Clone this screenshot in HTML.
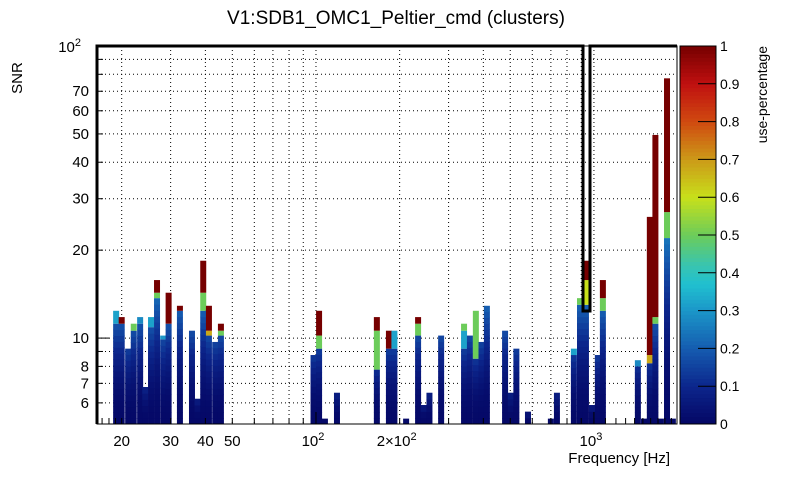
<!DOCTYPE html>
<html><head><meta charset="utf-8"><style>
body{margin:0;background:#fff;}
svg text{font-family:"Liberation Sans",sans-serif;fill:#000;}
</style></head><body>
<svg id="chart" width="805" height="472" viewBox="0 0 805 472" xmlns="http://www.w3.org/2000/svg">
<text x="396" y="24" font-size="19" text-anchor="middle">V1:SDB1_OMC1_Peltier_cmd (clusters)</text>
<text transform="translate(22,78) rotate(-90)" font-size="15" text-anchor="middle">SNR</text>
<text x="670" y="463" font-size="15" text-anchor="end">Frequency [Hz]</text>
<text transform="translate(767,46) rotate(-90)" font-size="14" text-anchor="end">use-percentage</text>
<g id="grid"></g><g id="bars"></g><g id="axes"></g><g id="cbar"></g>
</svg>
<script>
const freqs=[19.1,20.0,21.1,22.1,23.3,24.3,25.5,26.8,28.2,29.5,32.4,35.8,37.5,39.3,41.2,43.4,45.5,98,102.6,107.7,119,165.6,183,191.5,211,233,244,256,282,341,358,376,394,412,479,502,526,579,700,736,847,891,936,984,1033,1077,1439,1514,1589,1664,1742,1832,1923];
const snrTop=[12.4,11.8,9.2,11.2,11.8,6.8,11.8,15.8,10.2,14.3,12.9,10.6,6.2,18.4,12.9,9.7,11.2,8.75,12.4,5.3,6.5,11.8,10.6,10.6,5.3,11.8,5.9,6.5,10.2,11.2,10.2,12.4,9.7,12.9,10.6,6.5,9.2,5.6,5.3,6.5,9.2,13.7,18.4,5.9,8.75,15.8,8.4,5.3,26,49.6,5.3,77.5,5.3];
const hotFrom=[11.2,11.2,9.2,10.6,11.2,6.8,10.9,14.3,9.9,11.2,12.4,10.6,6.2,14.3,10.6,9.7,10.6,8.75,10.2,5.3,6.5,10.6,9.2,9.2,5.3,11.2,5.9,6.5,10.2,10.6,10.2,8.5,9.7,12.9,10.6,6.5,9.2,5.6,5.3,6.5,8.75,13,15.8,5.9,8.75,13.7,8.0,5.3,8.75,11.8,5.3,27,5.3];
const hotUse=[0.32,1,0,0.5,0.28,0,0.32,1,0.3,1,1,0,0,1,1,0,1,0,1,0,0,1,1,0.32,0,1,0,0,0,0.5,0,0.5,0,0,0,0,0,0,0,0,0.32,0.5,1,0,0,1,0.28,0,1,1,0,1,0];
const midFrom=[0,0,0,0,0,0,0,13.7,0,0,0,0,0,12.4,10.2,0,10.2,0,9.2,0,0,7.8,0,0,0,10.2,0,0,0,9.2,0,0,0,0,0,0,0,0,0,0,0,0,13,0,0,12.4,0,0,8.2,11.2,0,22,0];
const midUse=[0,0,0,0,0,0,0,0.5,0,0,0,0,0,0.5,0.68,0,0.5,0,0.5,0,0,0.5,0,0,0,0.5,0,0,0,0.32,0,0,0,0,0,0,0,0,0,0,0,0,0.6,0,0,0.5,0,0,0.68,0.5,0,0.5,0];
const xTicks=[20,30,40,50,60,70,80,90,100,200,300,400,500,600,700,800,900,1000];
const xLabels=[[20,"20"],[30,"30"],[40,"40"],[50,"50"]];
const yTicks=[6,7,8,9,10,20,30,40,50,60,70,80,90,100];
const yLabels=[6,7,8,10,20,30,40,50,60,70];
const cTicks=[0,0.1,0.2,0.3,0.4,0.5,0.6,0.7,0.8,0.9,1];

const X0=97,X1=677,Y0=424,Y1=46;
const LX0=Math.log10(16.3),LX1=Math.log10(1990),LY0=Math.log10(5.08),LY1=2;
const sx=f=>X0+(Math.log10(f)-LX0)/(LX1-LX0)*(X1-X0);
const sy=v=>Y0-(Math.log10(v)-LY0)/(LY1-LY0)*(Y0-Y1);
const NS="http://www.w3.org/2000/svg";
function mk(tag,attrs,parent){const e=document.createElementNS(NS,tag);for(const k in attrs)e.setAttribute(k,attrs[k]);parent.appendChild(e);return e;}
const stops=[[0,[4,6,100]],[0.1,[12,38,140]],[0.2,[21,92,176]],[0.3,[27,150,200]],[0.37,[32,192,208]],[0.42,[56,196,176]],[0.5,[108,204,90]],[0.6,[200,224,26]],[0.7,[204,154,24]],[0.8,[208,74,16]],[0.9,[192,16,16]],[1,[118,0,0]]];
function cmap(u){for(let i=1;i<stops.length;i++){if(u<=stops[i][0]){const a=stops[i-1],b=stops[i],t=(u-a[0])/(b[0]-a[0]);return "rgb("+a[1].map((c,j)=>Math.round(c+(b[1][j]-c)*t)).join(",")+")";}}return "rgb(118,0,0)";}

const grid=document.getElementById('grid'),bars=document.getElementById('bars'),axes=document.getElementById('axes'),cbar=document.getElementById('cbar');
xTicks.forEach(f=>{const l=mk('line',{x1:sx(f),x2:sx(f),y1:Y1,y2:Y0,stroke:'#000','stroke-width':1,'stroke-dasharray':'1,3'},grid);

});
yTicks.forEach(v=>{const l=mk('line',{x1:X0,x2:X1,y1:sy(v),y2:sy(v),stroke:'#000','stroke-width':1,'stroke-dasharray':'1,3'},grid);

});

freqs.forEach((f,i)=>{
  const g=mk('g',{},bars);
  
  
  const xc=sx(f),x=xc-3,w=6;
  const top=sy(snrTop[i]),hot=sy(hotFrom[i]);
  const mid=midFrom[i]>0?sy(midFrom[i]):hot;
  const baseTop=Math.max(mid,top);
  const n=Math.max(1,Math.round((Y0-baseTop)/6));
  const h=(Y0-baseTop)/n;
  const maxU=Math.min(0.24,0.02+0.2*(Y0-baseTop)/130);
  for(let k=0;k<n;k++){const t=k/Math.max(1,n-1);const u=0.01+(maxU-0.01)*t*t;
    const r=mk('rect',{x:x,y:Y0-(k+1)*h,width:w,height:h+0.5,fill:cmap(u)},g);
    
    }
  if(midFrom[i]>0&&mid>hot){const r=mk('rect',{x:x,y:hot,width:w,height:mid-hot,fill:cmap(midUse[i])},g);
    
    }
  if(hot>top){const r=mk('rect',{x:x,y:top,width:w,height:hot-top,fill:cmap(hotUse[i])},g);
    
    }
});

const fr=mk('rect',{x:X0,y:Y1,width:X1-X0,height:Y0-Y1,fill:'none',stroke:'#000','stroke-width':1},axes);


const ol=mk('polyline',{points:`${X0},${Y0} ${X0},${Y1} 583,${Y1} 583,311 590,311 590,${Y1} ${X1},${Y1}`,fill:'none',stroke:'#000','stroke-width':3},axes);


xTicks.concat([1100,1200,1300,1400,1500,1600,1700,1800,1900,17,18,19]).forEach(f=>{const major=(f===100||f===1000);
  const t=mk('line',{x1:sx(f),x2:sx(f),y1:Y0,y2:Y0-(major?12:6),stroke:'#000'},axes);
  
  });
xLabels.forEach(p=>{const t=mk('text',{x:sx(p[0]),y:446,'font-size':15,'text-anchor':'middle'},axes);t.textContent=p[1];
  
  });
[[100,"10","2"],[200,"2×10","2"],[1000,"10","3"]].forEach(p=>{const t=mk('text',{x:sx(p[0])-3,y:446,'font-size':15,'text-anchor':'middle'},axes);
  t.textContent=p[1];const s=mk('tspan',{dy:-6,'font-size':11},t);s.textContent=p[2];
  
  });
yTicks.forEach(v=>{const major=(v===10||v===100);
  const t=mk('line',{x1:X0,x2:X0+(major?12:6),y1:sy(v),y2:sy(v),stroke:'#000'},axes);
  
  });
yLabels.forEach(v=>{const t=mk('text',{x:89,y:sy(v)+5,'font-size':15,'text-anchor':'end'},axes);t.textContent=String(v);
  
  });
{const t=mk('text',{x:81,y:sy(100)+6,'font-size':15,'text-anchor':'end'},axes);t.textContent="10";const s=mk('tspan',{dy:-6,'font-size':11},t);s.textContent="2";
  
  }
const CX0=680,CX1=716;
for(let k=0;k<100;k++){const u=(k+0.5)/100;const r=mk('rect',{x:CX0,y:Y0-(k+1)*(Y0-Y1)/100,width:CX1-CX0,height:(Y0-Y1)/100+0.5,fill:cmap(u)},cbar);
  
  }
const cb=mk('rect',{x:CX0,y:Y1,width:CX1-CX0,height:Y0-Y1,fill:'none',stroke:'#000'},cbar);


cTicks.forEach(u=>{const y=Y0-u*(Y0-Y1);
  const l=mk('line',{x1:CX1-18,x2:CX1,y1:y,y2:y,stroke:'#000'},cbar);
  
  
  const t=mk('text',{x:720,y:y+5,'font-size':14},cbar);t.textContent=String(u);
  
  });
</script>
</body></html>
